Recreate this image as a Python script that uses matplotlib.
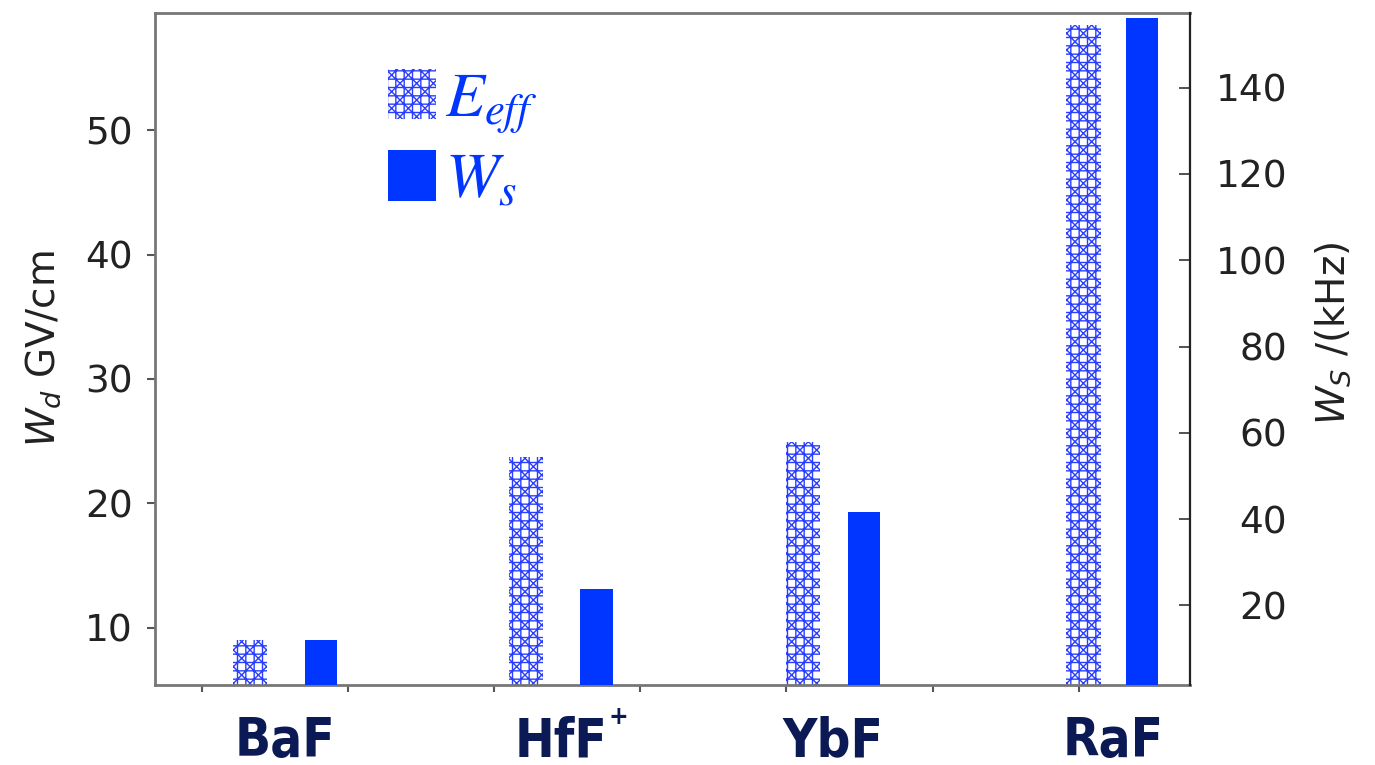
import matplotlib.pyplot as plt
import numpy as np
from matplotlib import font_manager
from matplotlib.font_manager import FontProperties
from matplotlib.patches import Patch

molecules = ["BaF", "HfF", "YbF", "RaF"]
charges = ["", "+", "", ""]
e_eff = [9.0, 23.7, 24.9, 58.4]      # GV/cm, left axis
w_s = [11.9, 23.7, 41.7, 156.1]      # kHz, right axis

BLUE = "#0036ff"
HATCH_BLUE = "#2a3eff"
NAVY = "#0b1a55"

plt.rcParams["mathtext.fontset"] = "dejavusans"
plt.rcParams["hatch.linewidth"] = 1.0


def narrow_bold(size):
    # look for a condensed / narrow bold face, else plain bold
    for f in font_manager.fontManager.ttflist:
        fn = f.fname.lower()
        if ("condensed" in fn or "narrow" in fn) and "bold" in fn and "oblique" not in fn \
                and "italic" not in fn:
            return FontProperties(fname=f.fname, size=size)
    return FontProperties(family="DejaVu Sans", weight="bold", size=size - 3)


fig = plt.figure(figsize=(13.75, 7.65), dpi=100)
ax = fig.add_axes([0.1127, 0.1046, 0.7527, 0.8784])
ax2 = ax.twinx()

# bar layout in units of the bottom tick spacing
x_e = np.array([0.328, 2.216, 4.111, 6.033])
x_w = np.array([0.814, 2.700, 4.528, 6.430])

ax.bar(x_e, e_eff, width=0.235, facecolor="white", edgecolor=HATCH_BLUE,
       hatch="++xx", linewidth=0, zorder=2)
ax2.bar(x_w, w_s, width=0.22, color=BLUE, linewidth=0, zorder=2)

ax.set_xlim(-0.32, 6.76)
ax.set_ylim(5.42, 59.4)
ax2.set_ylim(1.55, 157.3)

ax.set_xticks(np.arange(7))
ax.set_xticklabels([])
ax.tick_params(axis="x", length=5, width=1.5, color="#555555")
ax.set_yticks([10, 20, 30, 40, 50])
ax.tick_params(axis="y", labelsize=27, length=6, width=1.5, color="#555555",
               labelcolor="#222222", pad=10)
ax2.set_yticks([20, 40, 60, 80, 100, 120, 140])
ax2.tick_params(axis="y", direction="in", labelsize=27, length=8, width=1.2,
                color="#333333", labelcolor="#222222", pad=70)
for t in ax2.get_yticklabels():
    t.set_horizontalalignment("right")

for s in ["left", "bottom", "top"]:
    ax.spines[s].set_color("#777777")
    ax.spines[s].set_linewidth(2)
ax.spines["right"].set_visible(False)
for s in ["left", "bottom", "top"]:
    ax2.spines[s].set_visible(False)
ax2.spines["right"].set_color("#222222")
ax2.spines["right"].set_linewidth(1.6)

ax.set_ylabel("$W_d$ GV/cm", fontsize=28, color="#222222")
ax.yaxis.set_label_coords(-0.089, 0.5)
ax2.set_ylabel("$W_S$ /(kHz)", fontsize=28, color="#222222")
ax2.yaxis.set_label_coords(1.119, 0.524)

fp = narrow_bold(38)
for xe, xw, name, q in zip(x_e, x_w, molecules, charges):
    xc = (xe + xw) / 2
    ax.text(xc, -0.106, name, transform=ax.get_xaxis_transform(), ha="center",
            va="baseline", fontproperties=fp, color=NAVY)
    if q:
        ax.annotate(q, xy=(xc, -0.106), xycoords=ax.get_xaxis_transform(),
                    xytext=(41, 28), textcoords="offset points", ha="center",
                    va="center", fontsize=17, fontweight="bold", color=NAVY)

handles = [
    Patch(facecolor="white", edgecolor=HATCH_BLUE, hatch="++xx", linewidth=0),
    Patch(facecolor=BLUE, linewidth=0),
]
leg = ax2.legend(handles, [r"$E_{eff}$", r"$W_s$"],
                 loc="upper left", bbox_to_anchor=(0.194, 0.967), frameon=False,
                 fontsize=46, labelcolor=BLUE,
                 handlelength=0.75, handleheight=0.85, handletextpad=0.15,
                 labelspacing=0.2, borderpad=0)
for t in leg.get_texts():
    t.set_math_fontfamily("stix")

fig.savefig("out.png", dpi=100)
